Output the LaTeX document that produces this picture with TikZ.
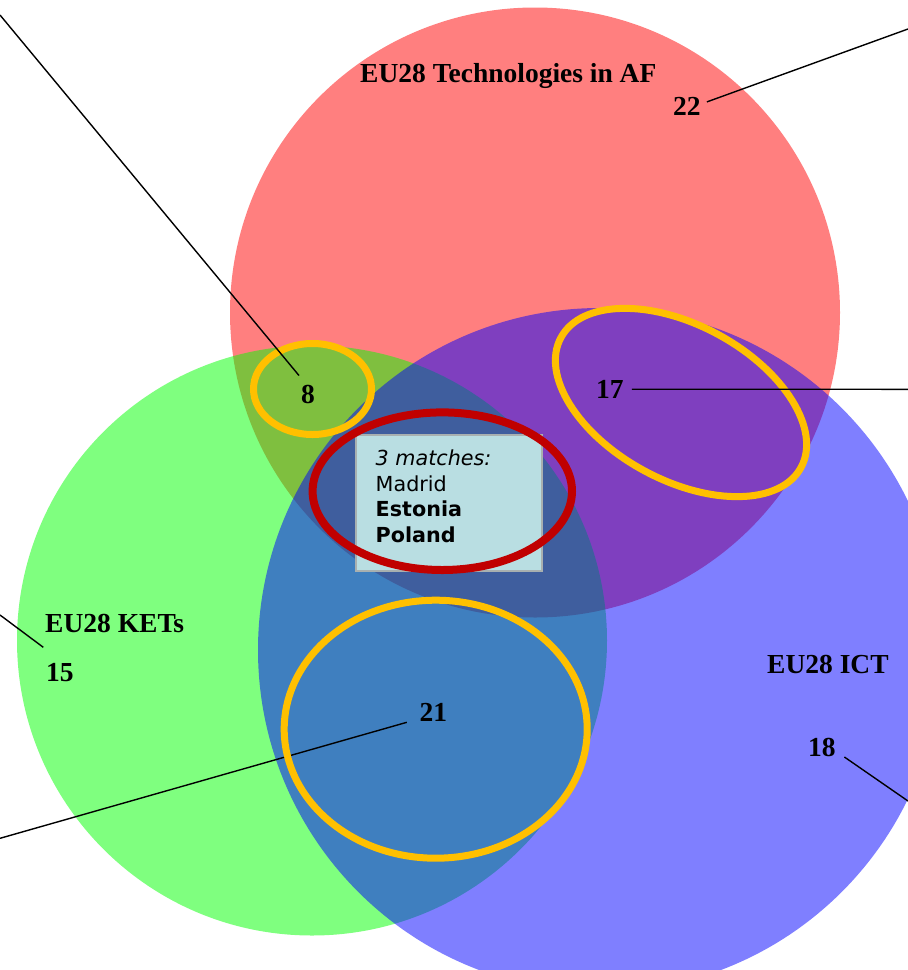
\documentclass[tikz,border=0pt]{standalone}
\usepackage{fontspec}
\setmainfont{Liberation Serif}
\newfontfamily\verd{DejaVu Sans}
\definecolor{ringY}{HTML}{FFC000}
\definecolor{ringR}{HTML}{C00000}
\definecolor{boxfill}{HTML}{B9DEE2}
\definecolor{boxline}{HTML}{A8B0B0}
\begin{document}
\begin{tikzpicture}[x=1pt,y=-1pt,
  setcircle/.style={fill opacity=0.5},
  ring/.style={draw=ringY,line width=7},
  callout/.style={black,line width=1.4},
  lbl/.style={inner sep=0,anchor=base west,font=\fontsize{27.5}{30}\selectfont\bfseries},
  boxtxt/.style={inner sep=0,anchor=base west,font=\verd\fontsize{20.7}{25}\selectfont}]
\useasboundingbox (0,0) rectangle (908,970);
% sets
\fill[setcircle,red] (535,312.5) circle[radius=305];
\fill[setcircle,green] (312,640.5) circle[radius=295];
\fill[setcircle,blue] (600,650) circle[radius=342];
% labels
\node[lbl] (tAF) at (360,82) {EU28 Technologies in AF};
\node[lbl] (n22) at (673,115) {22};
\node[lbl] (n8) at (301,403) {8};
\node[lbl] (n17) at (596,398.3) {17};
\node[lbl] (tKET) at (45,632.7) {EU28 KETs};
\node[lbl] (n15) at (46,681.7) {15};
\node[lbl] (n21) at (419.3,721.7) {21};
\node[lbl] (tICT) at (767,673) {EU28 ICT};
\node[lbl] (n18) at (808,756.7) {18};
% free ends
\coordinate (e8) at (0,15);
\coordinate (e22) at (908,29);
\coordinate (e17) at (908,389.3);
\coordinate (eKET) at (0,615);
\coordinate (e21) at (0,838.3);
\coordinate (e18) at (908,801);
% line under rings
\draw[callout] ([shift={(-12.5,0.6)}]n21.base west) -- (e21);
% box
\node[draw=boxline,fill=boxfill,line width=2,minimum width=186,minimum height=136,inner sep=0] (box) at (448.8,503) {};
\node[boxtxt] (t1) at (375.5,465) {\itshape 3 matches:};
\node[boxtxt] (t2) at (375.5,491.7) {Madrid};
\node[boxtxt] (t3) at (375.5,516.5) {\bfseries Estonia};
\node[boxtxt] (t4) at (375.5,542) {\bfseries Poland};
% rings
\draw[ring] (312.5,389) ellipse[x radius=59,y radius=45.5];
\draw[ring] (435.7,729.2) ellipse[x radius=151.5,y radius=129];
\draw[ring,rotate around={-28.4:(681,402.5)}] (681,402.5) ellipse[x radius=136.5,y radius=77.5];
\draw[draw=ringR,line width=8] (442.3,491.2) ellipse[x radius=129.7,y radius=78.8];
% other callouts
\draw[callout] ([shift={(-2,-9)}]n8.north west) -- (e8);
\draw[callout] ([shift={(6,-4)}]n22.east) -- (e22);
\draw[callout] ([xshift=8]n17.east) -- (e17);
\draw[callout] ([shift={(-1.7,14.6)}]tKET.base west) -- (eKET);
\draw[callout] ([shift={(8.5,0.3)}]n18.base east) -- (e18);
\end{tikzpicture}
\end{document}
